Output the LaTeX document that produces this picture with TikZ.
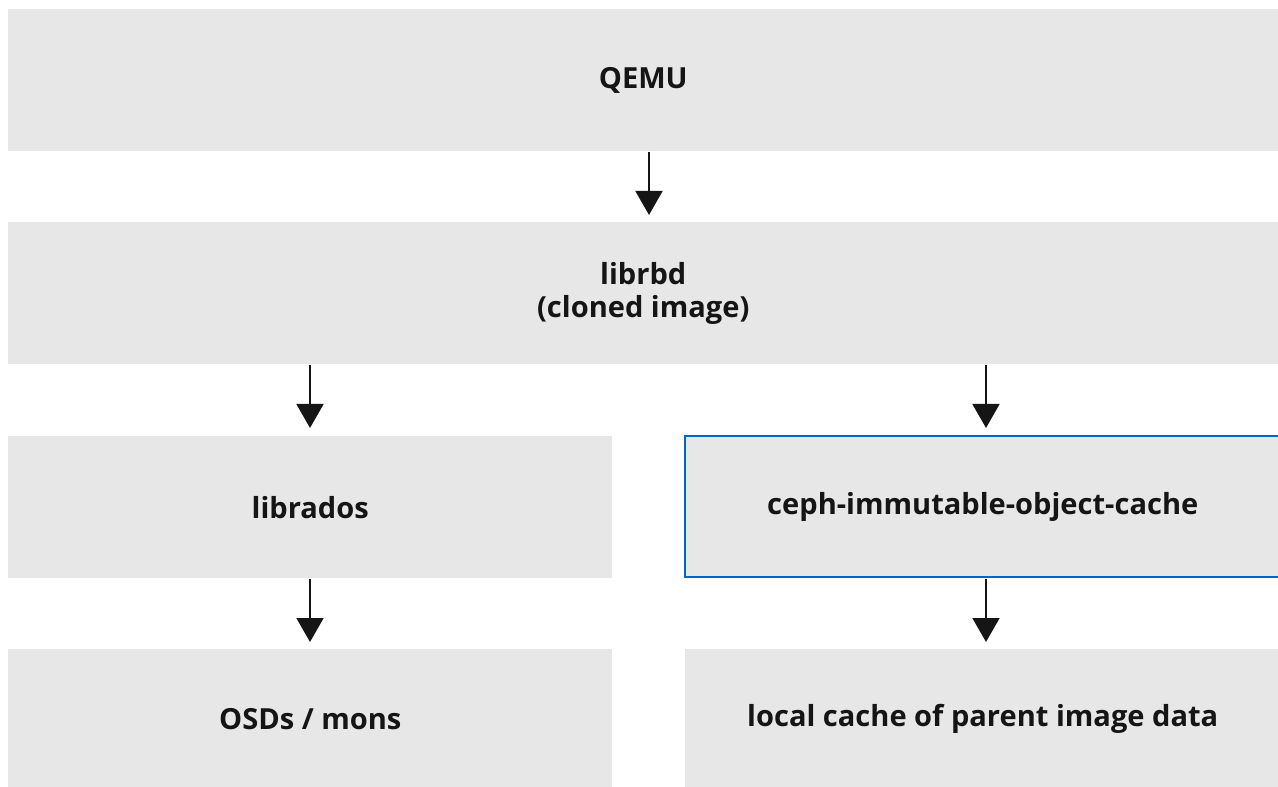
\documentclass[tikz,border=0pt]{standalone}
\usepackage{fontspec}
\setmainfont{Open Sans}
\usetikzlibrary{arrows.meta}
\definecolor{boxgray}{HTML}{E7E7E7}
\definecolor{hiblue}{HTML}{0066CC}
\definecolor{ink}{HTML}{151515}
\begin{document}
\begin{tikzpicture}[x=0.75pt,y=-0.75pt,
  blk/.style={fill=boxgray,draw=none,inner sep=0pt,font=\fontsize{21.8}{25}\selectfont\bfseries,text=ink,align=center},
  hl/.style={draw=hiblue,line width=1.8pt},
  arr/.style={draw=ink,line width=2.2pt,-{Triangle[length=18pt,width=20pt]}}]
\useasboundingbox (0,0) rectangle (1278,787);
\fill[white] (0,0) rectangle (1278,787);
\node[blk,minimum width=1270*0.75pt,minimum height=142*0.75pt,anchor=north west] (qemu) at (8,9) {QEMU};
\node[blk,minimum width=1270*0.75pt,minimum height=142*0.75pt,anchor=north west] (librbd) at (8,222) {librbd\\(cloned image)};
\node[blk,minimum width=604*0.75pt,minimum height=142*0.75pt,anchor=north west] (librados) at (8,436) {librados};
\node[blk,minimum width=595*0.75pt,minimum height=142*0.75pt,anchor=north west] (ceph) at (685,436) {ceph-immutable-object-cache};
\node[blk,minimum width=604*0.75pt,minimum height=140*0.75pt,anchor=north west] (osds) at (8,649) {OSDs / mons};
\node[blk,minimum width=595*0.75pt,minimum height=140*0.75pt,anchor=north west] (local) at (685,649) {local cache of parent image data};
\draw[hl] (1280,436) -- (685,436) -- (685,577) -- (1280,577);
\coordinate (a1) at (649,151);
\coordinate (a2) at (649,215);
\draw[arr] (qemu.south -| a1) -- (a2);
\coordinate (b1) at (310,428);
\coordinate (c1) at (986,428);
\draw[arr] (librbd.south -| b1) -- (b1);
\draw[arr] (librbd.south -| c1) -- (c1);
\coordinate (b2) at (310,642);
\coordinate (c2) at (986,642);
\draw[arr] (librados.south -| b2) -- (b2);
\draw[arr] (ceph.south -| c2) -- (c2);
\end{tikzpicture}
\end{document}
